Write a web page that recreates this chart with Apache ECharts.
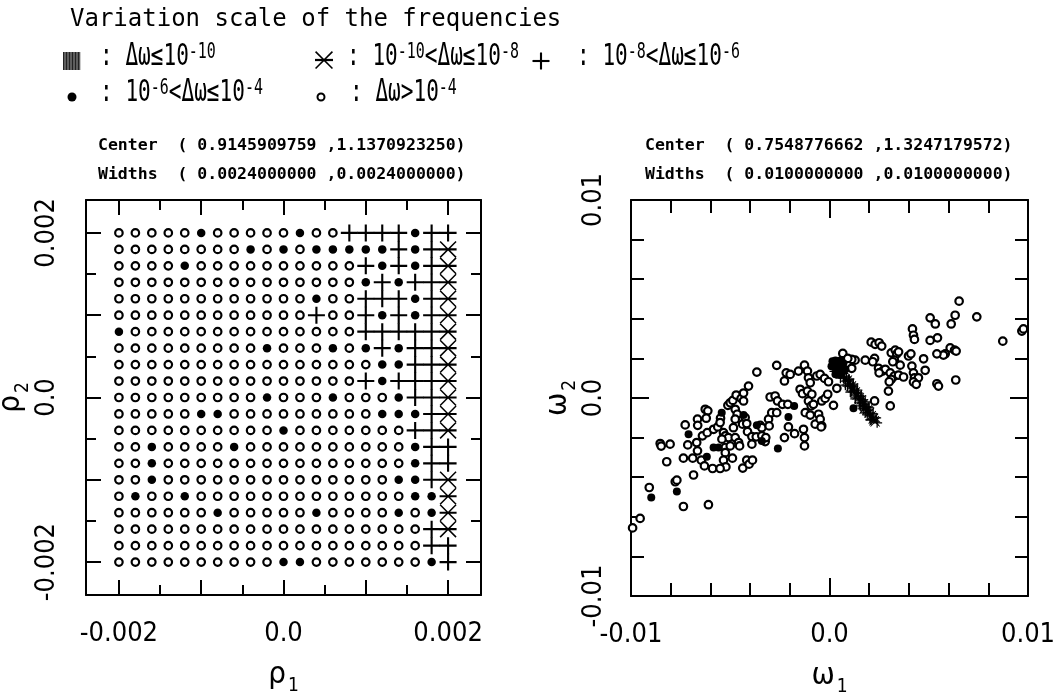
<!DOCTYPE html>
<html><head><meta charset="utf-8">
<script src="https://cdn.jsdelivr.net/npm/echarts@6/dist/echarts.min.js"></script>
<style>html,body{margin:0;padding:0;background:#fff}#c{width:1061px;height:693px}</style>
</head><body><div id="c"></div>
<script>
// ---------- Left panel: grid of initial conditions (rho1, rho2) ----------
const rho1Values = [-0.002,-0.0018,-0.0016,-0.0014,-0.0012,-0.001,-0.0008,-0.0006,-0.0004,-0.0002,0,0.0002,0.0004,0.0006,0.0008,0.001,0.0012,0.0014,0.0016,0.0018,0.002];
const rho2Values = [0.002,0.0018,0.0016,0.0014,0.0012,0.001,0.0008,0.0006,0.0004,0.0002,0,-0.0002,-0.0004,-0.0006,-0.0008,-0.001,-0.0012,-0.0014,-0.0016,-0.0018,-0.002];
// class of each cell (row = rho2 from top, column = rho1 from left)
// o: dw>1e-4   f: 1e-6<dw<=1e-4   p: 1e-8<dw<=1e-6   a: 1e-10<dw<=1e-8   s: dw<=1e-10
const gridRows = [
  "ooooofooooofooppppfpp",
  "oooooooofofofffffpfpa",
  "oooofoooooooooopfpfpa",
  "ooooooooooooooofpfppa",
  "oooooooooooofoopppfpa",
  "oooooooooooopoopfpfpa",
  "foooooooooooooopppppa",
  "ooooooooofooofofpfppa",
  "ooooooooooooooooffppa",
  "ooooooooooooooopfpppa",
  "ooooooooofooofooofppa",
  "oooooffooooooooofffpa",
  "oooooooooofoooooooppa",
  "oofoooofoooooooooofpp",
  "oofooooooooooooooofpp",
  "oofooooooooooooooffpa",
  "ofoofoooooooooooooffa",
  "oooooofooooofoooofofa",
  "ooooooooooooooooooopa",
  "ooooooooooooooooooopp",
  "ooooooooooffooooooofp"
];
const rhoTicksMajor = [-0.002,-0.001,0,0.001,0.002];
const rhoTicksMinor = [-0.0015,-0.0005,0.0005,0.0015];
const rhoTickLabels = [-0.002,0,0.002];
const rhoRange = [-0.0024, 0.0024];

// ---------- Right panel: frequencies (omega1, omega2), values in units of 1e-3 ----------
const OMEGA_UNIT = 1e-3;
const omegaOpen = [
 [-8.53,-2.30],[-8.48,-2.43],[-8.03,-2.33],[-7.27,-1.36],[-7.14,-2.37],[-6.65,-1.07],[-6.64,-1.38],[-6.69,-2.25],[-6.65,-2.67],
 [-6.26,-0.57],[-6.13,-0.65],[-6.21,-1.02],[-6.40,-1.91],[-6.16,-1.75],[-5.84,-1.58],[-5.63,-1.46],[-5.49,-1.02],[-5.51,-1.24],
 [-5.34,-1.75],[-5.25,-1.91],[-5.25,-2.50],[-5.25,-2.76],[-5.12,-0.37],[-5.00,-0.24],[-4.87,-0.12],[-4.70,0.15],[-4.45,-0.02],
 [-4.33,0.25],[-4.33,-0.15],[-4.08,0.60],[-5.09,-2.00],[-5.00,-2.42],[-4.75,-2.00],[-4.58,-2.25],[-4.53,-2.42],[-4.75,-0.57],
 [-4.65,-0.82],[-4.75,-1.07],[-4.84,-1.50],[-4.25,-0.99],[-4.38,-1.32],[-4.17,-1.29],[-4.13,-1.70],[-3.91,-1.95],[-3.91,-2.33],
 [-3.66,1.31],[-3.49,-1.38],[-3.41,-1.50],[-3.69,-1.96],[-3.41,-1.91],[-3.24,-2.20],[-3.21,-2.00],[-3.07,-1.07],[-3.04,-1.41],
 [-2.99,0.05],[-2.74,0.10],[-2.66,1.65],[-2.91,-0.74],[-2.66,-0.74],[-2.62,-0.15],[-2.37,-0.32],[-2.27,0.86],[-2.18,1.27],
 [-1.98,1.19],[-2.10,-0.32],[-2.07,-1.46],[-2.27,-2.00],[-1.76,-1.80],[-1.56,1.36],[-1.48,0.44],[-1.36,0.22],[-1.26,1.66],
 [-1.11,1.36],[-1.06,1.02],[-0.97,0.77],[-1.11,0.35],[-0.89,0.19],[-1.22,-0.74],[-1.06,-0.15],[-0.92,-0.40],[-0.97,-0.86],
 [-0.81,-0.32],[-1.31,-1.58],[-1.26,-2.00],[-1.26,-2.42],[-0.72,-1.32],[-0.64,1.11],[-0.47,1.19],[-0.25,0.99],[-0.05,0.82],
 [-0.55,-0.82],[-0.47,-1.07],[-0.39,-1.41],[-0.39,-0.15],[-0.22,-0.02],[-0.09,0.19],[0.20,-0.37],[0.37,0.49],[0.67,2.25],
 [-7.36,-3.04],[-6.89,-3.04],[-8.20,-3.22],[-6.46,-3.14],[-6.30,-3.43],[-5.89,-3.56],[-5.34,-3.14],[-5.22,-3.48],[-5.51,-3.56],
 [-4.89,-3.04],[-4.37,-3.54],[-4.17,-3.14],[-4.05,-3.34],[-3.88,-3.14],[-6.85,-3.89],[-7.77,-4.23],[-7.69,-4.15],[-9.08,-4.52],
 [-7.36,-5.48],[-6.10,-5.39],[-9.54,-6.08],[-9.92,-6.56],[-5.42,-2.08],[-0.42,-1.46],
 [6.53,4.89],[6.33,4.18],[7.42,4.10],[5.07,4.05],[5.33,3.74],[6.13,3.74],[9.69,3.38],[9.77,3.49],[8.73,2.87],[4.18,3.49],
 [4.23,3.17],[4.28,2.96],[5.07,2.91],[5.44,3.04],[2.10,2.82],[2.30,2.71],[2.50,2.79],[2.63,2.62],[6.08,2.53],[6.30,2.42],
 [6.38,2.37],[5.83,2.23],[5.74,2.17],[5.41,2.23],[3.11,2.28],[3.31,2.42],[3.39,2.23],[3.48,2.33],[3.98,2.12],[4.10,2.23],
 [4.74,1.98],[1.80,1.91],[2.27,2.00],[2.18,1.83],[3.27,1.91],[3.19,1.83],[3.56,1.66],[4.15,1.61],[4.82,1.40],[2.47,1.50],
 [2.67,1.36],[2.81,1.45],[2.50,1.27],[3.06,1.27],[3.27,1.11],[3.48,1.16],[3.73,1.06],[3.11,0.94],[3.01,0.82],[4.23,1.27],
 [4.28,1.02],[4.48,1.02],[4.23,0.81],[4.37,0.69],[5.41,0.72],[5.49,0.60],[6.36,0.91],[2.97,0.35],[3.06,-0.40],[1.29,1.91],
 [1.12,1.95],[0.92,2.00],[1.12,1.50],[2.27,-0.15]
];
const omegaFilled = [
 [-7.10,-1.83],[-5.84,-2.50],[-5.59,-2.50],[-5.43,-0.74],[-4.33,-0.86],[-3.66,-1.38],[-3.41,-2.17],[-2.60,-2.55],[-2.07,-0.96],
 [-1.78,-0.40],[-6.18,-2.97],[-7.69,-4.72],[-8.98,-5.02],[1.21,-0.52],
 [0.15,1.85],[0.30,1.90],[0.45,1.75],[0.25,1.55],[0.40,1.65],[0.60,1.55],[0.35,1.35],[0.20,1.70],[0.55,1.90],[0.50,1.20],
 [0.10,1.60],[0.70,1.75],[0.30,1.20],[0.80,1.45]
];
const omegaPlus = [
 [0.30,1.60],[0.40,1.45],[0.50,1.30],[0.60,1.20],[0.70,1.00],[0.80,0.85],[0.50,1.50],[0.65,1.30],[0.85,1.05],[0.95,0.85],
 [1.05,0.70],[1.15,0.55],[1.25,0.40],[1.35,0.25],[1.45,0.10],[1.55,-0.05],[1.65,-0.20],[1.75,-0.35],[1.85,-0.50],[1.95,-0.65],
 [2.05,-0.80],[2.15,-0.95],[0.75,1.10],[1.00,0.95],[1.20,0.70],[1.40,0.40],[1.60,0.10],[1.80,-0.20],[2.00,-0.50],[0.90,0.60],
 [1.10,0.35],[1.30,0.05],[1.50,-0.25],[1.70,-0.55],[1.90,-0.85],[2.10,-1.10],
 [0.45,1.60],[0.70,1.25],[0.95,0.95],[1.20,0.60],[1.45,0.25],[1.70,-0.10],[1.95,-0.45],[2.20,-0.80],[0.25,1.35],[0.55,1.00],
 [0.80,0.65],[1.05,0.30],[1.30,-0.05],[1.55,-0.40],[1.80,-0.75],[2.05,-1.10],[2.35,-1.00],[2.40,-1.25]
];
const omegaAsterisk = [
 [0.90,0.90],[1.10,0.60],[1.30,0.30],[1.50,0.00],[1.70,-0.30],[1.90,-0.60],[2.10,-0.90],[2.30,-1.20],[1.20,0.50],[1.60,-0.10],
 [2.00,-0.75],[1.40,0.15],[1.80,-0.45],[2.20,-1.05],[1.00,0.75],[2.25,-1.15],[1.75,-0.55]
];
const omegaTicksMajor = [0];
const omegaTicksMinor = [-0.008,-0.006,-0.004,-0.002,0.002,0.004,0.006,0.008];
const omegaTickLabels = [-0.01,0,0.01];
const omegaRange = [-0.01, 0.01];

// ---------- symbols ----------
const PLUS = 'path://M0,7L16,7L16,9L0,9ZM7,0L9,0L9,16L7,16Z';
const ASTER = 'path://M0,1L1,0L16,15L15,16ZM15,0L16,1L1,16L0,15ZM0,7L16,7L16,9L0,9Z';

// ---------- build left-panel series data ----------
const cellData = {o: [], f: [], p: [], a: [], s: []};
gridRows.forEach((row, i) => {
  for (let j = 0; j < row.length; j++) cellData[row[j]].push([rho1Values[j], rho2Values[i]]);
});
const scaleOmega = arr => arr.map(([a, b]) => [a * OMEGA_UNIT, b * OMEGA_UNIT]);

const FONT_AX = "'Liberation Sans Narrow','DejaVu Sans Condensed','Liberation Sans',sans-serif";
const fmtLabel = v => (v === 0 ? '0.0' : String(+v.toPrecision(3)));

function axesFor(gridMajor, gridMinor, range, major, minor, labels, dim, name, nameGap, labelMargin, majLen, minLen) {
  const isX = dim === 'x';
  const posA = isX ? 'bottom' : 'left', posB = isX ? 'top' : 'right';
  const base = {type: 'value', min: range[0], max: range[1], splitLine: {show: false}, scale: false};
  const line = {show: true, onZero: false, lineStyle: {color: '#000', width: 2}};
  const noLine = {show: false, onZero: false};
  const tick = (vals, len) => ({show: true, inside: true, length: len, customValues: vals, lineStyle: {color: '#000', width: 2}});
  const nameRich = {
    n: {fontSize: 31, fontFamily: FONT_AX, color: '#000'},
    s: {fontSize: 19, fontFamily: FONT_AX, color: '#000', padding: [24, 0, 0, 2]}
  };
  return [
    Object.assign({}, base, {gridIndex: gridMajor, position: posA, axisLine: line, axisTick: tick(major, majLen),
      axisLabel: {show: true, customValues: labels, formatter: fmtLabel, fontSize: 27, fontFamily: FONT_AX, color: '#000',
        margin: labelMargin, rotate: isX ? 0 : 90},
      name: name, nameLocation: 'middle', nameGap: nameGap, nameRotate: isX ? 0 : 90,
      nameTextStyle: {rich: nameRich}}),
    Object.assign({}, base, {gridIndex: gridMajor, position: posB, axisLine: line, axisTick: tick(major, majLen), axisLabel: {show: false}}),
    Object.assign({}, base, {gridIndex: gridMinor, position: posA, axisLine: noLine, axisTick: tick(minor, minLen), axisLabel: {show: false}}),
    Object.assign({}, base, {gridIndex: gridMinor, position: posB, axisLine: noLine, axisTick: tick(minor, minLen), axisLabel: {show: false}})
  ];
}

const LEFT = {left: 86, top: 200, width: 395, height: 395};
const RIGHT = {left: 631, top: 200, width: 397, height: 396};
const grids = [LEFT, LEFT, RIGHT, RIGHT].map(g => Object.assign({outerBoundsMode: 'none', containLabel: false}, g));

const xAxes = [].concat(
  axesFor(0, 1, rhoRange, rhoTicksMajor, rhoTicksMinor, rhoTickLabels, 'x', '{n|ρ}{s|1}', 58, 25, 15, 10),
  axesFor(2, 3, omegaRange, omegaTicksMajor, omegaTicksMinor, omegaTickLabels, 'x', '{n|ω}{s|1}', 58, 25, 18, 13)
);
const yAxes = [].concat(
  axesFor(0, 1, rhoRange, rhoTicksMajor, rhoTicksMinor, rhoTickLabels, 'y', '{n|ρ}{s|2}', 46, 26, 15, 10),
  axesFor(2, 3, omegaRange, omegaTicksMajor, omegaTicksMinor, omegaTickLabels, 'y', '{n|ω}{s|2}', 38, 24, 18, 13)
);

function sc(data, xi, symbol, size, filled) {
  return {
    type: 'scatter', xAxisIndex: xi, yAxisIndex: xi, data: data, symbol: symbol, symbolSize: size,
    silent: true, animation: false,
    itemStyle: filled === 'ring' ? {color: '#fff', borderColor: '#000', borderWidth: 2.2, opacity: 1}
                                 : {color: '#000', borderWidth: 0, opacity: 1}
  };
}

const series = [
  sc(cellData.o, 0, 'circle', 7.5, 'ring'),
  sc(cellData.f, 0, 'circle', 8.5, 'fill'),
  sc(cellData.p, 0, PLUS, 17, 'fill'),
  sc(cellData.a, 0, ASTER, 17, 'fill'),
  sc(cellData.s, 0, 'rect', 12, 'fill'),
  sc(scaleOmega(omegaOpen), 4, 'circle', 7.5, 'ring'),
  sc(scaleOmega(omegaFilled), 4, 'circle', 8, 'fill'),
  sc(scaleOmega(omegaPlus), 4, PLUS, 10, 'fill'),
  sc(scaleOmega(omegaAsterisk), 4, ASTER, 10, 'fill')
];

// ---------- header texts ----------
const MONO = "'DejaVu Sans Mono',monospace";
const legendRich = {
  m: {fontSize: 31, fontFamily: MONO, fill: '#000', lineHeight: 31, padding: [6, 0, 0, 0], verticalAlign: 'bottom'},
  s: {fontSize: 22, fontFamily: MONO, fill: '#000', lineHeight: 22, verticalAlign: 'top'}
};
function legendText(x, y, text) {
  return {type: 'text', x: x, y: y, scaleX: 0.68, silent: true,
    style: {text: text, rich: legendRich, fill: '#000', verticalAlign: 'middle', align: 'left', fontFamily: MONO, fontSize: 31}};
}
function plainText(x, y, text, size, weight) {
  return {type: 'text', x: x, y: y, silent: true,
    style: {text: text, fill: '#000', fontFamily: MONO, fontSize: size, fontWeight: weight || 'normal', verticalAlign: 'middle', align: 'left'}};
}
// legend marker glyphs built from polygons (unit box 16)
function polys(cx, cy, s, list) {
  const k = s / 16;
  return list.map(pts => ({type: 'polygon', silent: true,
    shape: {points: pts.map(([a, b]) => [cx - s / 2 + a * k, cy - s / 2 + b * k])}, style: {fill: '#000'}}));
}
const PLUS_POLYS = [[[0,7],[16,7],[16,9],[0,9]], [[7,0],[9,0],[9,16],[7,16]]];
const ASTER_POLYS = [[[0,1],[1,0],[16,15],[15,16]], [[15,0],[16,1],[1,16],[0,15]], [[0,7],[16,7],[16,9],[0,9]]];

const hatch = [];
for (let k = 0; k < 6; k++) hatch.push({type: 'line', silent: true, shape: {x1: 65 + k * 3, y1: 52, x2: 65 + k * 3, y2: 70}, style: {stroke: '#999', lineWidth: 1}});

const graphics = [
  plainText(70, 20, 'Variation scale of the frequencies', 24),
  {type: 'rect', silent: true, shape: {x: 63, y: 52, width: 17, height: 18}, style: {fill: '#222'}},
  ...hatch,
  legendText(100, 57, '{m|: Δω≤10}{s|-10}'),
  ...polys(324, 60, 18, ASTER_POLYS),
  legendText(347, 57, '{m|: 10}{s|-10}{m|<Δω≤10}{s|-8}'),
  ...polys(541, 61, 17, PLUS_POLYS),
  legendText(577, 57, '{m|: 10}{s|-8}{m|<Δω≤10}{s|-6}'),
  {type: 'circle', silent: true, shape: {cx: 72, cy: 97, r: 4.5}, style: {fill: '#000'}},
  legendText(100, 93, '{m|: 10}{s|-6}{m|<Δω≤10}{s|-4}'),
  {type: 'circle', silent: true, shape: {cx: 321, cy: 97, r: 3.5}, style: {fill: '#fff', stroke: '#000', lineWidth: 2}},
  legendText(350, 93, '{m|: Δω>10}{s|-4}'),
  plainText(98, 146, 'Center  ( 0.9145909759 ,1.1370923250)', 16.5, 'bold'),
  plainText(98, 175, 'Widths  ( 0.0024000000 ,0.0024000000)', 16.5, 'bold'),
  plainText(645, 146, 'Center  ( 0.7548776662 ,1.3247179572)', 16.5, 'bold'),
  plainText(645, 175, 'Widths  ( 0.0100000000 ,0.0100000000)', 16.5, 'bold')
];

const chart = echarts.init(document.getElementById('c'), null, {renderer: 'canvas'});
chart.setOption({
  animation: false,
  backgroundColor: '#fff',
  grid: grids,
  xAxis: xAxes,
  yAxis: yAxes,
  series: series,
  graphic: graphics
});
</script></body></html>
